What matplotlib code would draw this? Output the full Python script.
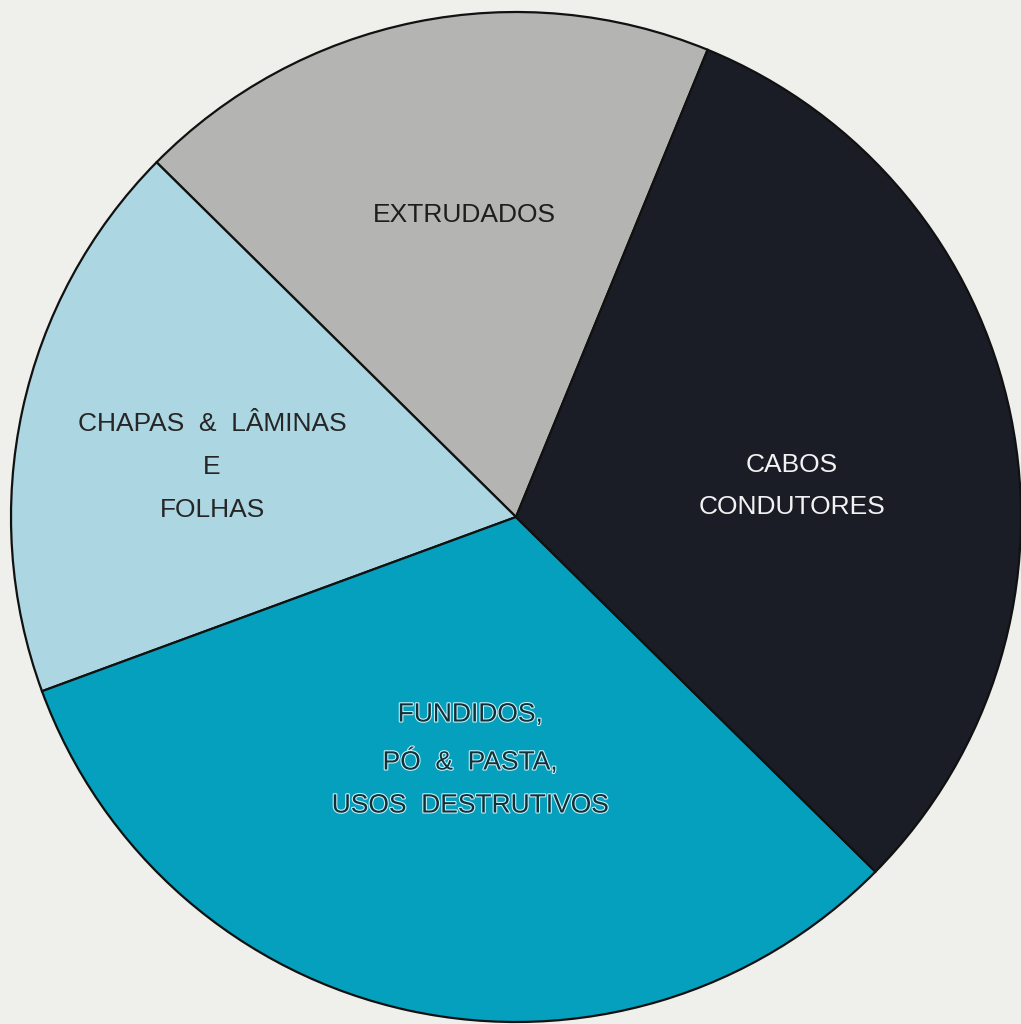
import matplotlib.pyplot as plt
import matplotlib.patheffects as pe

# Data (shares, in %)
categories = ['EXTRUDADOS', 'CHAPAS  &  LÂMINAS\nE\nFOLHAS',
              'FUNDIDOS,\nPÓ  &  PASTA,\nUSOS  DESTRUTIVOS', 'CABOS\nCONDUTORES']
shares = [18.8, 18.0, 32.0, 31.2]

colors = ['#b4b4b3', '#acd7e2', '#05a0bd', '#1a1d26']
text_colors = ['#1e1e1e', '#262626', '#10303a', '#f2f2f2']

fig = plt.figure(figsize=(10.21, 10.24), dpi=100, facecolor='#efefec')
ax = fig.add_axes([0, 0, 1, 1])
ax.set_facecolor('#efefec')

cx, cy, r = 516, 507, 505
wedges, _ = ax.pie(shares, colors=colors, startangle=67.7, counterclock=True,
                   center=(cx, cy), radius=r,
                   wedgeprops=dict(edgecolor='#111111', linewidth=1.6))

ax.set_xlim(0, 1021)
ax.set_ylim(0, 1024)
ax.set_aspect('equal')
ax.axis('off')

# label positions (pixels from the top-left corner of the scan)
label_pos = [(464, 215), (212, 467), (470, 760), (792, 486)]
for i, (lab, (px, py)) in enumerate(zip(categories, label_pos)):
    t = ax.text(px, 1024 - py, lab, ha='center', va='center', fontsize=19,
                family='Liberation Sans', color=text_colors[i], linespacing=2.0)
    if i == 2:
        t.set_path_effects([pe.withStroke(linewidth=1.6, foreground='#c8eef5')])

plt.savefig('out.png', dpi=100, facecolor=fig.get_facecolor())
